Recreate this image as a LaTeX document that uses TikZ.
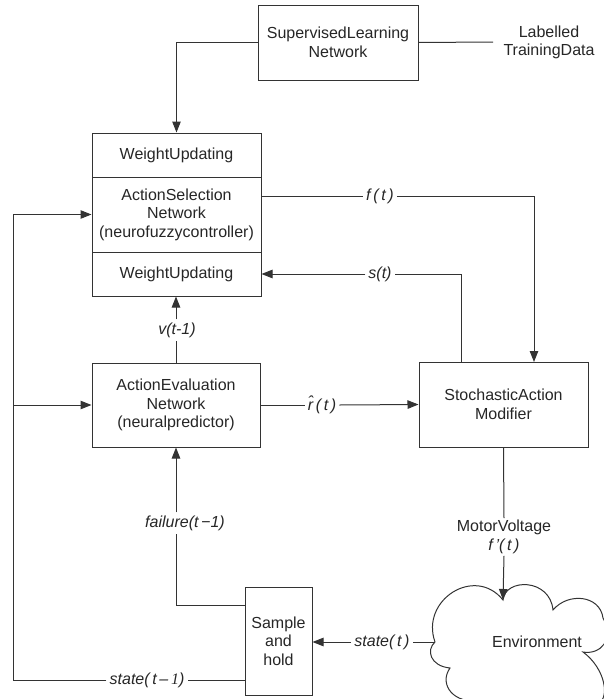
\documentclass[tikz,border=0pt]{standalone}
\usepackage{fontspec}
\setmainfont{Liberation Sans}
\newfontfamily\numfont{Liberation Serif}
\usetikzlibrary{arrows.meta}

\begin{document}
\begin{tikzpicture}[x=1pt,y=-1pt,
  every node/.style={font=\fontsize{16}{18.5}\selectfont, text=black!85},
  box/.style={draw=black!80, line width=1pt, align=center, inner sep=0pt},
  lbl/.style={font=\fontsize{16}{18.5}\selectfont\itshape, inner sep=3pt, align=center},
  wire/.style={draw=black!80, line width=1pt},
  arr/.style={wire, -{Triangle[length=11pt,width=8.5pt]}},
]
\useasboundingbox (0,0) rectangle (603,699);

% blocks
\node[box, minimum width=160pt, minimum height=75pt] (sl) at (338,42.5) {SupervisedLearning\\Network};
\node[align=center] (ltd) at (549,42.5) {Labelled\\TrainingData};
\node[box, minimum width=169pt, minimum height=44pt] (wu1) at (176.5,155) {WeightUpdating};
\node[box, minimum width=169pt, minimum height=75pt] (asn) at (176.5,214.5) {ActionSelection\\Network\\(neurofuzzycontroller)};
\node[box, minimum width=169pt, minimum height=44pt] (wu2) at (176.5,274) {WeightUpdating};
\node[box, minimum width=168pt, minimum height=84pt] (aen) at (176,405) {ActionEvaluation\\Network\\(neuralpredictor)};
\node[box, minimum width=169pt, minimum height=85pt] (sam) at (503.5,404.5) {StochasticAction\\Modifier};
\node[box, minimum width=67pt, minimum height=108pt] (sah) at (278.5,641) {Sample\\and\\hold};

% environment cloud
\draw[wire] (435,642) .. controls (420,600) and (475,565) .. (503,600)
  .. controls (505,578) and (550,578) .. (553,610)
  .. controls (568,592) and (600,595) .. (603,618)
  .. controls (615,640) and (600,655) .. (583,652)
  .. controls (605,668) and (612,700) .. (595,706)
  .. controls (560,722) and (500,722) .. (480,700)
  .. controls (455,705) and (438,685) .. (450,668)
  .. controls (430,666) and (426,650) .. (435,642);
\node (env) at (537,642) {Environment};
\coordinate (envtop) at (503,600);
\coordinate (envleft) at (435,642);

% signal labels
\node[lbl] (ft) at (380,196) {f\,(\,t\,)};
\node[lbl] (st) at (380,274) {s(t)};
\node[lbl] (vt) at (177,330) {v(t-1)};
\node[lbl] (rt) at (322,405) {\^{r}\,(\,t\,)};
\node[lbl] (fl) at (185,523) {failure(t\,−1)};
\node[lbl] (s1) at (147,680) {state(\,t\,–\,{\numfont\itshape 1})};
\node[lbl] (s0) at (382,642) {state(\,t\,)};
\node[align=center, inner sep=2pt] (mv) at (504,537) {MotorVoltage\\{\itshape f\,'(\,t\,)}};

% routing points
\coordinate (ltdend) at (493,42);
\coordinate (fdown) at (534,362);
\coordinate (sup) at (461,362);
\coordinate (bus) at (13,0);
\coordinate (fj) at (176,605);

% connectors
\draw[arr] (sl.west) -| (wu1.north);
\draw[wire] (sl.east) -- (ltdend);
\draw[wire] (asn.east |- ft) -- (ft.west);
\draw[arr] (ft.east) -| (fdown);
\draw[wire] (sup) |- (st.east);
\draw[arr] (st.west) -- (wu2.east |- st);
\draw[wire] (aen.north) -- (vt.south -| aen.north);
\draw[arr] (vt.north -| aen.north) -- (wu2.south -| aen.north);
\draw[wire] (aen.east) -- (rt.west);
\draw[arr] (rt.east) -- (sam.west);
\draw[wire] (sam.south) -- (mv.north);
\draw[arr] (mv.south) -- (envtop);
\draw[wire] (envleft) -- (s0.east);
\draw[arr] (s0.west) -- (sah.east |- s0);
\draw[wire] (sah.west |- s1) -- (s1.east);
\draw[arr] (s1.west) -| (bus |- asn.west) -- (asn.west);
\draw[arr] (bus |- aen.west) -- (aen.west);
\draw[wire] (sah.west |- fj) -- (fj) -- (fj |- fl.south);
\draw[arr] (fj |- fl.north) -- (aen.south -| fj);
\end{tikzpicture}
\end{document}
